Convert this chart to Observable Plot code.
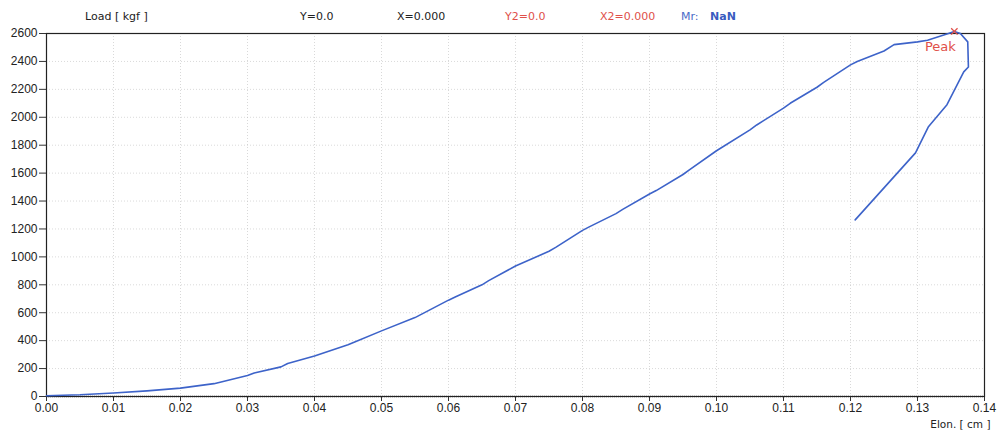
<!DOCTYPE html>
<html>
<head>
<meta charset="utf-8">
<script src="https://cdn.jsdelivr.net/npm/d3@7"></script>
<script src="https://cdn.jsdelivr.net/npm/@observablehq/plot@0.6"></script>
<style>
  html, body { margin: 0; padding: 0; background: #fff; }
  #wrap { position: relative; width: 999px; height: 432px; overflow: hidden; }
  #wrap svg { position: absolute; left: 0; top: 0; }
  .hdr { position: absolute; top: 10px; font-family: "DejaVu Sans", Verdana, sans-serif; font-size: 11px; color: #222; white-space: nowrap; }
</style>
</head>
<body>
<div id="wrap">
  <span class="hdr" style="left:85px">Load [ kgf ]</span>
  <span class="hdr" style="left:300px">Y=0.0</span>
  <span class="hdr" style="left:397px">X=0.000</span>
  <span class="hdr" style="left:505px;color:#e0504a">Y2=0.0</span>
  <span class="hdr" style="left:600px;color:#e0504a">X2=0.000</span>
  <span class="hdr" style="left:681px;color:#4a6cc8">Mr:</span>
  <span class="hdr" style="left:710px;color:#3a5cc0;font-weight:bold">NaN</span>
</div>
<script>
// Elongation (cm) and load (kgf)
const elon = [0.000, 0.005, 0.010, 0.015, 0.020, 0.025, 0.030, 0.031, 0.035, 0.036, 0.040, 0.045, 0.046, 0.050, 0.055, 0.056, 0.060, 0.061, 0.065, 0.066, 0.070, 0.075, 0.076, 0.080, 0.081, 0.085, 0.086, 0.090, 0.091, 0.095, 0.096, 0.100, 0.105, 0.106, 0.110, 0.111, 0.115, 0.116, 0.120, 0.121, 0.125, 0.1265, 0.130, 0.1315, 0.1345, 0.1355, 0.1364, 0.1375, 0.1376, 0.1369, 0.1344, 0.1316, 0.1297, 0.1207];
const load = [5, 12, 25, 40, 60, 92, 150, 168, 212, 236, 290, 370, 390, 470, 565, 590, 690, 712, 800, 830, 935, 1040, 1068, 1190, 1215, 1310, 1340, 1450, 1475, 1590, 1625, 1760, 1910, 1945, 2065, 2100, 2215, 2250, 2375, 2400, 2475, 2520, 2540, 2552, 2598, 2615, 2600, 2540, 2360, 2325, 2090, 1930, 1745, 1265];
const peakElon = [0.1355];
const peakLoad = [2615];
const xTicks = [0.00, 0.01, 0.02, 0.03, 0.04, 0.05, 0.06, 0.07, 0.08, 0.09, 0.10, 0.11, 0.12, 0.13, 0.14];
const yTicks = [0, 200, 400, 600, 800, 1000, 1200, 1400, 1600, 1800, 2000, 2200, 2400, 2600];

const data = elon.map((e, i) => ({elon: e, load: load[i]}));
const peak = peakElon.map((e, i) => ({elon: e, load: peakLoad[i]}));

const chart = Plot.plot({
  width: 999,
  height: 432,
  marginLeft: 46,
  marginRight: 15,
  marginTop: 33,
  marginBottom: 36,
  style: {fontFamily: "'Liberation Sans', Arial, sans-serif", fontSize: "12px", color: "#222", background: "transparent"},
  x: {domain: [0, 0.14], label: null},
  y: {domain: [0, 2600], label: null},
  marks: [
    Plot.gridX(xTicks, {stroke: "#aaa", strokeOpacity: 0.45, strokeDasharray: "1,2"}),
    Plot.gridY(yTicks, {stroke: "#aaa", strokeOpacity: 0.45, strokeDasharray: "1,2"}),
    Plot.ruleY([0], {stroke: "#555", strokeDasharray: "1,1", strokeWidth: 1.5}),
    Plot.axisX({ticks: xTicks, tickFormat: d3.format(".2f"), tickSize: 5, tickPadding: 2, stroke: "#333", fontSize: 12}),
    Plot.axisY({ticks: yTicks, tickFormat: d => String(d), tickSize: 7, tickPadding: 2, stroke: "#333", fontSize: 12}),
    Plot.frame({stroke: "#222", strokeWidth: 1.2}),
    Plot.line(data, {x: "elon", y: "load", stroke: "#3d63c9", strokeWidth: 1.6}),
    Plot.dot(peak, {x: "elon", y: "load", symbol: "times", r: 3, stroke: "#e0504a", strokeWidth: 1.3}),
    Plot.text(peak, {x: "elon", y: "load", text: () => "Peak", fill: "#e0504a", fontSize: 13, dx: -14, dy: 15, fontFamily: "'DejaVu Sans', sans-serif"}),
    Plot.text(["Elon. [ cm ]"], {frameAnchor: "bottom-right", text: d => d, dx: 6, dy: 28, fill: "#222", fontSize: 10.5, fontFamily: "'DejaVu Sans', sans-serif", textAnchor: "end", lineAnchor: "middle"})
  ]
});
document.getElementById("wrap").prepend(chart);
</script>
</body>
</html>
